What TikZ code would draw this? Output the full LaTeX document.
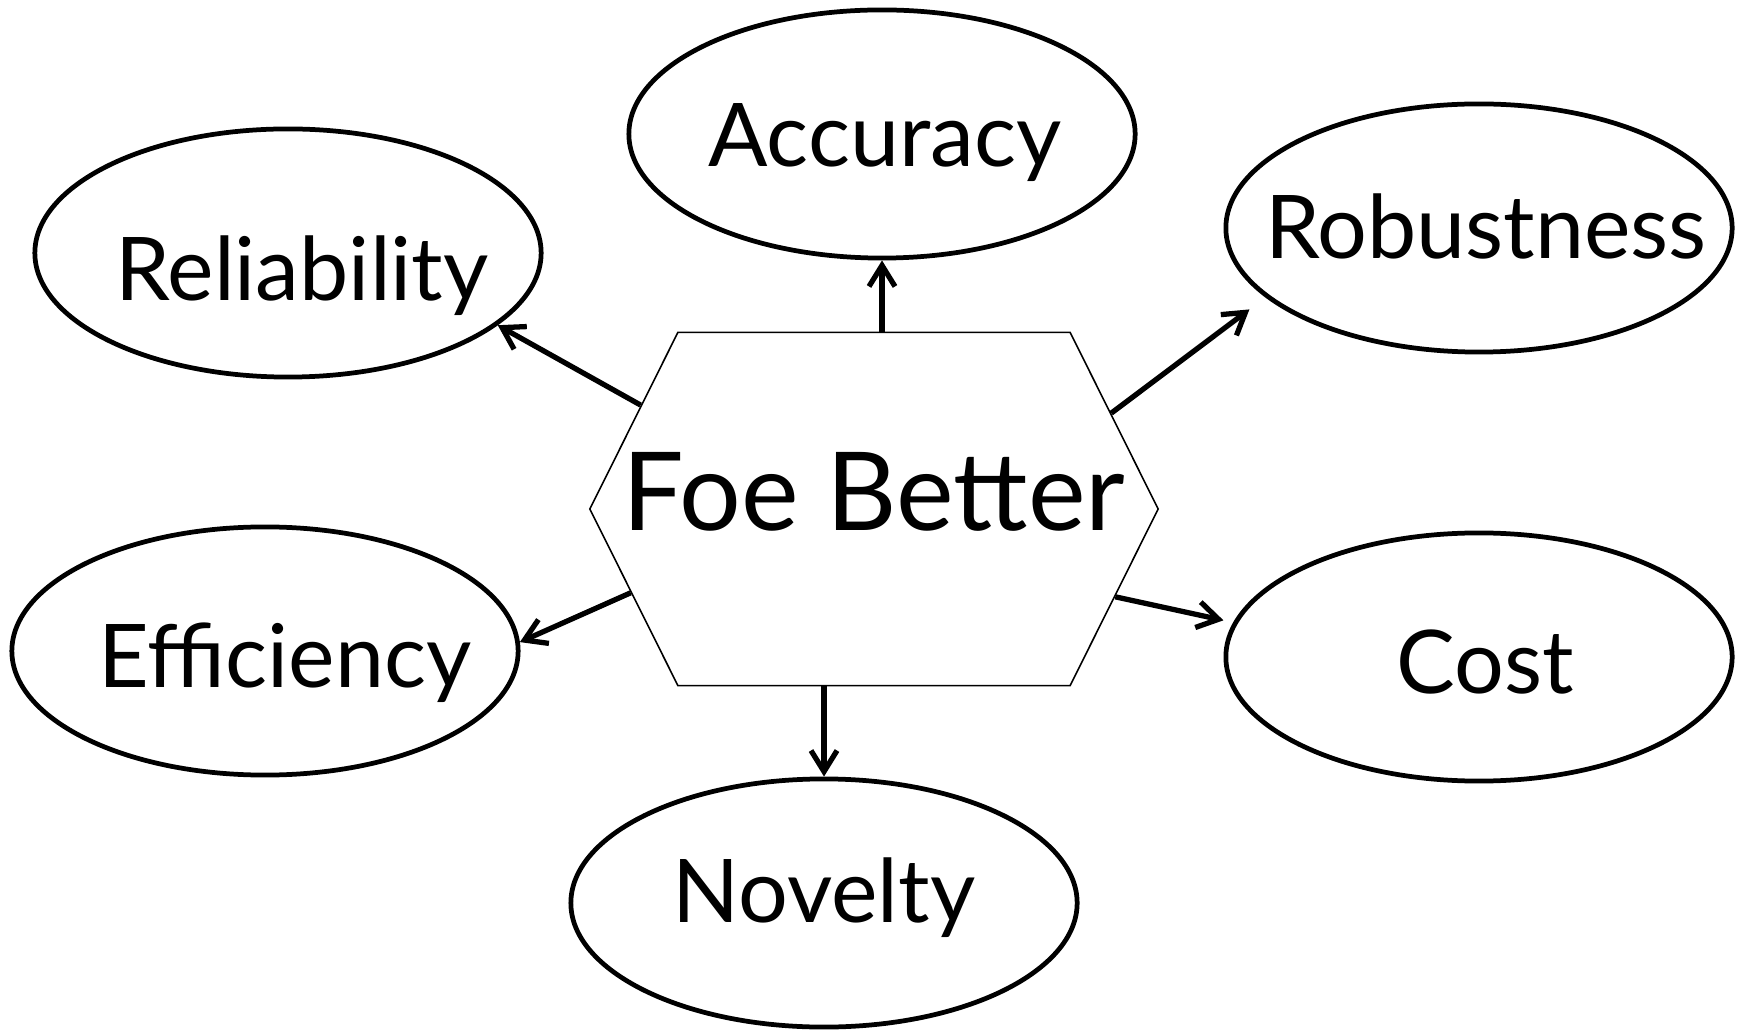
\documentclass[tikz,border=0pt]{standalone}
\usepackage{fontspec}
\setmainfont{Lato}
\usepackage{tikz}
\usetikzlibrary{arrows.meta,shapes.geometric,shapes.symbols}
\tikzset{
  goal/.style={ellipse,draw=black,line width=1.35pt,minimum width=5.06cm,minimum height=2.48cm,inner sep=0pt},
  goaltext/.style={anchor=base,inner sep=0pt,font=\fontsize{25}{30}\selectfont},
  core/.style={signal,signal to=west and east,signal pointer angle=127,draw=black,line width=0.45pt,minimum width=5.68cm,minimum height=3.53cm,inner sep=0pt},
  coretext/.style={anchor=base,inner sep=0pt,font=\fontsize{31}{36}\selectfont},
  arr/.style={-{Straight Barb[length=2.1mm,width=2.6mm]},draw=black,line width=1.5pt}
}

\begin{document}
\begin{tikzpicture}[x=0.01cm,y=-0.01cm]
  \useasboundingbox (0,0) rectangle (1746,1031);

  % centre and the six goals round it
  \node[core] (hex) at (874,509) {};
  \node[goal] (acc) at (882,134) {};
  \node[goal] (rel) at (288,253) {};
  \node[goal] (rob) at (1479,228) {};
  \node[goal] (eff) at (265,651) {};
  \node[goal] (cost) at (1479,657) {};
  \node[goal] (nov) at (824,903) {};

  % labels
  \node[coretext] (hex-t) at (874,531) {Foe Better};
  \node[goaltext] (acc-t) at (885,167) {Accuracy};
  \node[goaltext] (rel-t) at (302,301) {Reliability};
  \node[goaltext] (rob-t) at (1486,259) {Robustness};
  \node[goaltext] (eff-t) at (285,687) {Efficiency};
  \node[goaltext] (cost-t) at (1485,693) {Cost};
  \node[goaltext] (nov-t) at (824,922) {Novelty};

  \draw[arr] (hex.north -| acc.south) -- (acc.south);
  \draw[arr] (hex.156) -- (rel.-19);
  \draw[arr,shorten >=0.2cm] (hex.22.5) -- (rob.198);
  \draw[arr] (hex.199) -- (eff.2);
  \draw[arr,shorten >=0.1cm] (hex.-20) -- (cost.172);
  \draw[arr] (hex.south -| nov.north) -- (nov.north);
\end{tikzpicture}
\end{document}
